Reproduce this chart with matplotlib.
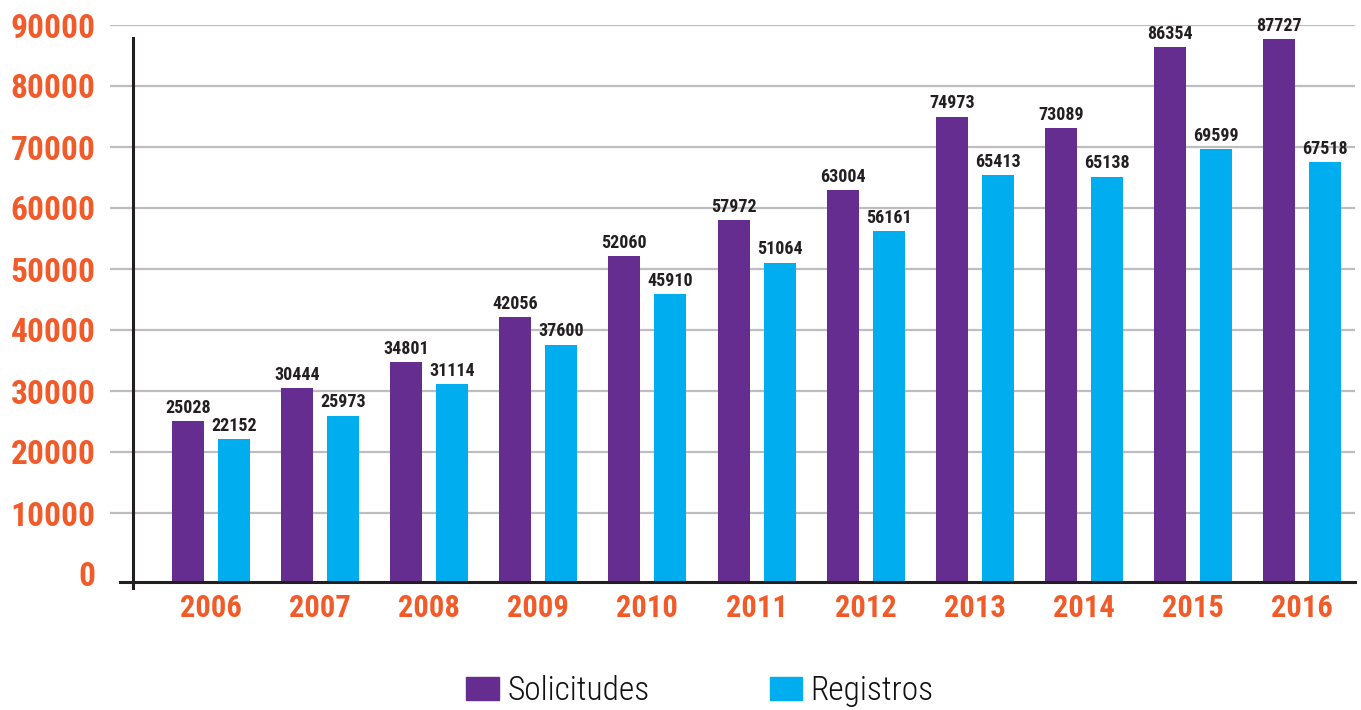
import matplotlib
matplotlib.use("Agg")
import matplotlib.pyplot as plt
from matplotlib.patches import Patch
from matplotlib import font_manager
import numpy as np

years = ["2006", "2007", "2008", "2009", "2010", "2011", "2012", "2013", "2014", "2015", "2016"]
solicitudes = [25028, 30444, 34801, 42056, 52060, 57972, 63004, 74973, 73089, 86354, 87727]
registros = [22152, 25973, 31114, 37600, 45910, 51064, 56161, 65413, 65138, 69599, 67518]
yticks = [0, 10000, 20000, 30000, 40000, 50000, 60000, 70000, 80000, 90000]

names = {f.name for f in font_manager.fontManager.ttflist}
narrow = "DejaVu Sans"
for cand in ["Roboto Condensed", "Archivo Narrow", "Asap Condensed", "Barlow Semi Condensed",
             "DejaVu Sans Condensed", "Liberation Sans Narrow"]:
    if cand in names:
        narrow = cand
        break

PURPLE = "#662D91"
CYAN = "#00AEEF"
ORANGE = "#F15A29"
TXT = "#231F20"

W, H = 1361, 710
fig = plt.figure(figsize=(W / 100, H / 100), dpi=100)
zero_px = 574.0
per10k = 61.0
top_px, bot_px = 25.0, 590.0
ax = fig.add_axes([110 / W, 1 - bot_px / H, (1355 - 110) / W, (bot_px - top_px) / H])
ymax = (zero_px - top_px) / per10k * 10000
ymin = -(bot_px - zero_px) / per10k * 10000
ax.set_ylim(ymin, ymax)

pxu = (1302 - 211) / 10.0
xl = -(211 - 110) / pxu
xr = 10 + (1355 - 1302) / pxu
ax.set_xlim(xl, xr)

x = np.arange(len(years))
bw = 32 / pxu
off = 23 / pxu
base = -(582 - zero_px) / per10k * 10000

sol = np.array(solicitudes)
reg = np.array(registros)
ax.bar(x - off, sol - base, bottom=base, width=bw, color=PURPLE, zorder=3)
ax.bar(x + off, reg - base, bottom=base, width=bw, color=CYAN, zorder=3)

for xs, vals in ((x - off, solicitudes), (x + off, registros)):
    for xi, v in zip(xs, vals):
        ax.annotate(str(v), (xi, v), xytext=(0, 3), textcoords="offset points",
                    ha="center", va="bottom", fontsize=13, color=TXT,
                    family=narrow, fontweight="bold", zorder=4)

for t in yticks[1:]:
    ax.axhline(t, color="#BDBDC1", lw=1.6, zorder=1)

for s in ["top", "right"]:
    ax.spines[s].set_visible(False)
ax.spines["left"].set_position(("data", -(211 - 133) / pxu))
ax.spines["left"].set_bounds(-(588 - zero_px) / per10k * 10000, (zero_px - 38) / per10k * 10000)
ax.spines["bottom"].set_position(("data", base))
ax.spines["bottom"].set_bounds(-(211 - 120) / pxu, xr)
for s in ["left", "bottom"]:
    ax.spines[s].set_color("#231F20")
    ax.spines[s].set_linewidth(2.2)
    ax.spines[s].set_zorder(5)

ax.set_yticks(yticks)
ax.set_yticklabels([str(t) for t in yticks], family=narrow, fontweight="bold",
                   fontsize=24, color=ORANGE)
ax.tick_params(axis="y", length=0, pad=27)
ax.set_xticks(x)
ax.set_xticklabels(years, family=narrow, fontweight="bold", fontsize=22, color=ORANGE)
ax.tick_params(axis="x", length=0, pad=8)

handles = [Patch(color=PURPLE, label="Solicitudes"), Patch(color=CYAN, label="Registros")]
fig.legend(handles=handles, loc="center", bbox_to_anchor=(700 / W, 1 - 691 / H), ncol=2,
           frameon=False, prop={"family": narrow, "size": 24, "weight": "light"},
           handlelength=0.97, handleheight=0.7, handletextpad=0.26, columnspacing=3.6,
           labelcolor="#111111")

fig.savefig("out.png", dpi=100, facecolor="white")
